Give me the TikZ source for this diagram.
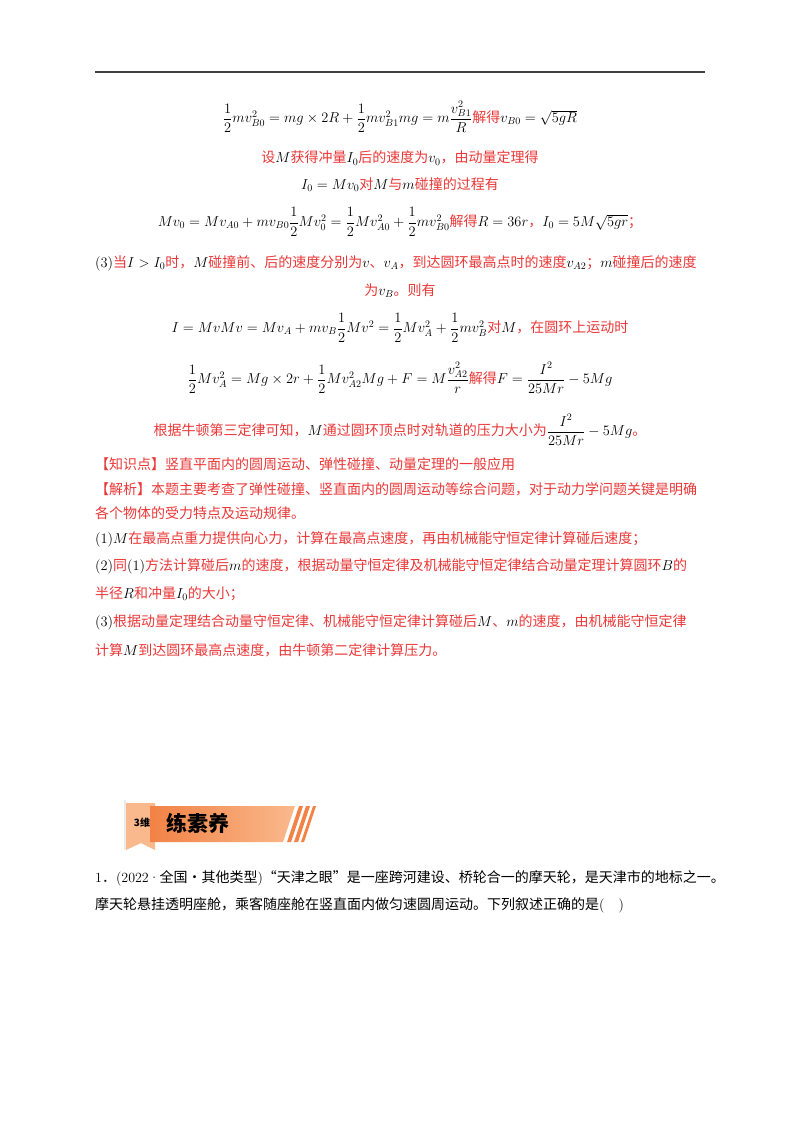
\documentclass[tikz,border=0pt]{standalone}
\usepackage{fontspec}
\usepackage{amsmath}
\newfontfamily\cjk{Noto Sans CJK SC}
\definecolor{ansred}{RGB}{235,55,55}
\definecolor{bannerO}{RGB}{242,130,70}
\definecolor{bannerL}{RGB}{250,185,140}
\newcommand{\zh}[1]{{\cjk #1}}
\newcommand{\zr}[1]{{\cjk\color{ansred}#1}}
\tikzset{
  lnb/.style={font=\fontsize{14}{16}\selectfont, inner sep=0pt, text=black},
}
\begin{document}
\begin{tikzpicture}[x=1pt,y=-1pt]
\useasboundingbox (0,0) rectangle (800,1132);
\fill[white] (0,0) rectangle (800,1132);
\draw[line width=1.2pt, black!75] (95,72) -- (705,72);
\node[lnb] (e1) at (400,117) {$\dfrac12 m v_{B0}^2 = mg\times 2R + \dfrac12 m v_{B1}^2 mg = m\dfrac{v_{B1}^2}{R}$\zr{解得}$v_{B0}=\sqrt{5gR}$};
\node[lnb] (e2) at (400,158) {\zr{设}$M$\zr{获得冲量}$I_0$\zr{后的速度为}$v_0$\zr{，由动量定理得}};
\node[lnb] (e3) at (400,185) {$I_0=Mv_0$\zr{对}$M$\zr{与}$m$\zr{碰撞的过程有}};
\node[lnb] (e4) at (400,222) {$Mv_0=Mv_{A0}+mv_{B0}\dfrac12 Mv_0^2=\dfrac12 Mv_{A0}^2+\dfrac12 mv_{B0}^2$\zr{解得}$R=36r$\zr{，}$I_0=5M\sqrt{5gr}$\zr{；}};
\node[lnb, anchor=west] (e5) at (95,263) {$(3)$\zr{当}$I>I_0$\zr{时，}$M$\zr{碰撞前、后的速度分别为}$v$\zr{、}$v_A$\zr{，到达圆环最高点时的速度}$v_{A2}$\zr{；}$m$\zr{碰撞后的速度}};
\node[lnb] (e6) at (400,291) {\zr{为}$v_B$\zr{。则有}};
\node[lnb] (e7) at (400,328) {$I=MvMv=Mv_A+mv_B\dfrac12 Mv^2=\dfrac12 Mv_A^2+\dfrac12 mv_B^2$\zr{对}$M$\zr{，在圆环上运动时}};
\node[lnb] (e8) at (400,378) {$\dfrac12 Mv_A^2=Mg\times 2r+\dfrac12 Mv_{A2}^2Mg+F=M\dfrac{v_{A2}^2}{r}$\zr{解得}$F=\dfrac{I^2}{25Mr}-5Mg$};
\node[lnb] (e9) at (400,430) {\zr{根据牛顿第三定律可知，}$M$\zr{通过圆环顶点时对轨道的压力大小为}$\dfrac{I^2}{25Mr}-5Mg$\zr{。}};
\node[lnb, anchor=west] (k1) at (95,464) {\zr{【知识点】竖直平面内的圆周运动、弹性碰撞、动量定理的一般应用}};
\node[lnb, anchor=west] (k2) at (95,489) {\zr{【解析】本题主要考查了弹性碰撞、竖直面内的圆周运动等综合问题，对于动力学问题关键是明确}};
\node[lnb, anchor=west] (k3) at (95,513) {\zr{各个物体的受力特点及运动规律。}};
\node[lnb, anchor=west] (k4) at (95,539) {$(1)M$\zr{在最高点重力提供向心力，计算在最高点速度，再由机械能守恒定律计算碰后速度；}};
\node[lnb, anchor=west] (k5) at (95,566) {$(2)$\zr{同}$(1)$\zr{方法计算碰后}$m$\zr{的速度，根据动量守恒定律及机械能守恒定律结合动量定理计算圆环}$B$\zr{的}};
\node[lnb, anchor=west] (k6) at (95,594) {\zr{半径}$R$\zr{和冲量}$I_0$\zr{的大小；}};
\node[lnb, anchor=west] (k7) at (95,622) {$(3)$\zr{根据动量定理结合动量守恒定律、机械能守恒定律计算碰后}$M$\zr{、}$m$\zr{的速度，由机械能守恒定律}};
\node[lnb, anchor=west] (k8) at (95,650) {\zr{计算}$M$\zr{到达圆环最高点速度，由牛顿第二定律计算压力。}};
% banner
\fill[black!8] (124,800) rectangle (126,850);
\fill[bannerL] (126,803) -- (155,803) -- (155,850) -- (141,843) -- (126,850) -- cycle;
\shade[left color=bannerO, right color=bannerL] (150,806) -- (295,806) -- (283,842) -- (150,842) -- cycle;
\fill[bannerO] (287,842) -- (299,806) -- (303,806) -- (291,842) -- cycle;
\fill[bannerO] (294,842) -- (306,806) -- (310,806) -- (298,842) -- cycle;
\fill[bannerO] (301,842) -- (313,806) -- (316,806) -- (304,842) -- cycle;
\node[font=\cjk\bfseries\fontsize{10}{12}\selectfont, inner sep=0pt] (b1) at (142,823) {3维};
\node[font=\cjk\bfseries\fontsize{21}{24}\selectfont, inner sep=0pt, anchor=west] (b2) at (166,823) {练素养};
\node[lnb, anchor=west] (q1) at (95,878) {1\zh{．}(2022·\zh{全国·其他类型})\zh{“天津之眼”是一座跨河建设、桥轮合一的摩天轮，是天津市的地标之一。}};
\node[lnb, anchor=west] (q2) at (95,905) {\zh{摩天轮悬挂透明座舱，乘客随座舱在竖直面内做匀速圆周运动。下列叙述正确的是}(\quad)};
\end{tikzpicture}
\end{document}
